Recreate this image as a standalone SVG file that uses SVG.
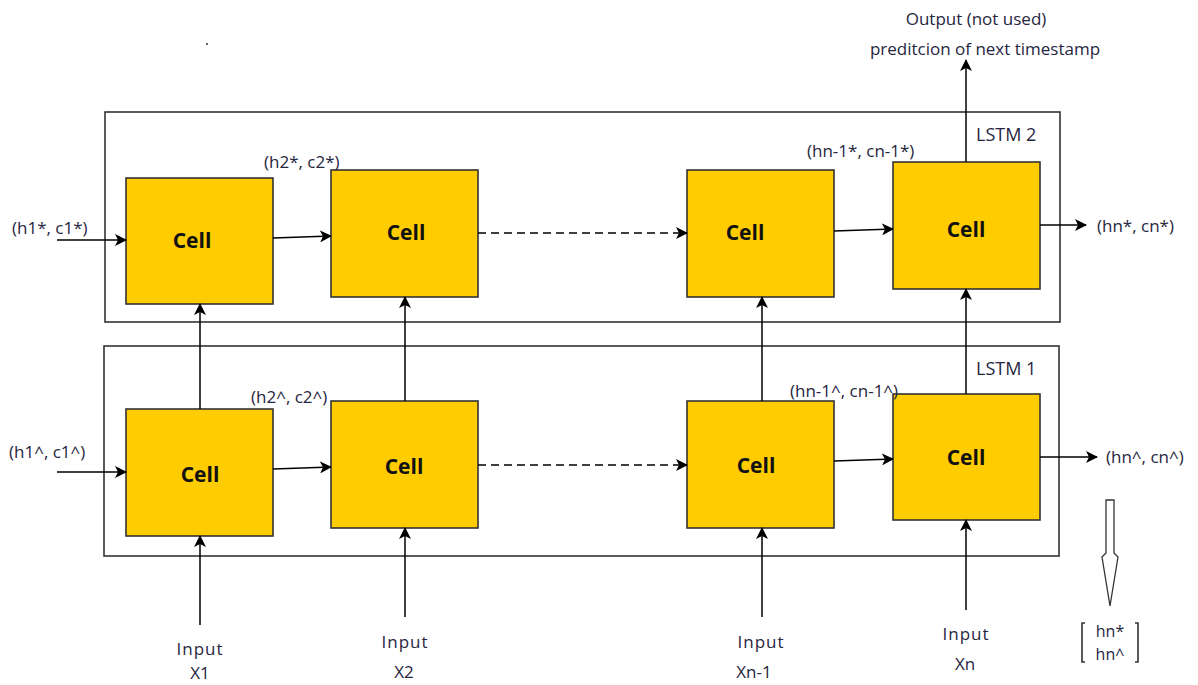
<svg xmlns="http://www.w3.org/2000/svg" width="1198" height="685" viewBox="0 0 1198 685">
  <style>
    .layer { fill: none; stroke: #333; stroke-width: 1.6; }
    .cell rect { fill: #ffcc00; stroke: #333; stroke-width: 1.6; }
    .cell text { font-family: "Open Sans", "Noto Sans", sans-serif; font-weight: bold; font-size: 21px; fill: #111; text-anchor: middle; dominant-baseline: central; }
    .lbl { font-family: "Open Sans", "Noto Sans", sans-serif; font-size: 17px; fill: #262640; dominant-baseline: central; }
    .mid { text-anchor: middle; }
    .inp { letter-spacing: 1px; }
    .conn { fill: none; stroke: #000; stroke-width: 1.5; marker-end: url(#arr); }
    .dash { stroke-dasharray: 8 5; }
  </style>
  <defs>
    <marker id="arr" viewBox="0 0 12 12" refX="11" refY="6" markerWidth="12" markerHeight="12" markerUnits="userSpaceOnUse" orient="auto">
      <path d="M0,0 L12,6 L0,12 L3,6 Z" fill="#000"/>
    </marker>
  </defs>

  <!-- stray dot -->
  <circle cx="207" cy="44" r="1" fill="#333"/>

  <!-- layer frames -->
  <g id="lstm2">
    <rect class="layer" x="105" y="112" width="955" height="210"/>
    <text class="lbl" x="976" y="134" style="font-size:18px">LSTM 2</text>
  </g>
  <g id="lstm1">
    <rect class="layer" x="104" y="346" width="955" height="210"/>
    <text class="lbl" x="976" y="368" style="font-size:18px">LSTM 1</text>
  </g>

  <!-- upper layer cells -->
  <g id="top1" class="cell"><rect x="126" y="178" width="147" height="126"/><text x="192" y="240">Cell</text></g>
  <g id="top2" class="cell"><rect x="331" y="170" width="147" height="127"/><text x="406" y="232">Cell</text></g>
  <g id="top3" class="cell"><rect x="687" y="170" width="147" height="127"/><text x="745" y="232">Cell</text></g>
  <g id="top4" class="cell"><rect x="893" y="162" width="147" height="127"/><text x="966" y="229">Cell</text></g>

  <!-- lower layer cells -->
  <g id="bot1" class="cell"><rect x="126" y="409" width="147" height="127"/><text x="200" y="474">Cell</text></g>
  <g id="bot2" class="cell"><rect x="331" y="401" width="147" height="127"/><text x="404" y="466">Cell</text></g>
  <g id="bot3" class="cell"><rect x="687" y="401" width="147" height="127"/><text x="756" y="465">Cell</text></g>
  <g id="bot4" class="cell"><rect x="893" y="394" width="147" height="126"/><text x="966" y="457">Cell</text></g>

  <!-- connectors -->
  <g id="connectors">
    <!-- upper recurrence -->
    <path class="conn" d="M57,240 L126,240"/>
    <path class="conn" d="M273,238 L331,236"/>
    <path class="conn dash" d="M478,233 L687,233"/>
    <path class="conn" d="M834,231 L893,229"/>
    <path class="conn" d="M1040,225 L1086,225"/>
    <path class="conn" d="M966,162 L966,60"/>
    <!-- lower recurrence -->
    <path class="conn" d="M57,472 L126,472"/>
    <path class="conn" d="M273,469 L331,467"/>
    <path class="conn dash" d="M478,465 L687,465"/>
    <path class="conn" d="M834,461 L893,459"/>
    <path class="conn" d="M1040,457 L1097,457"/>
    <!-- lower to upper -->
    <path class="conn" d="M200,409 L200,304"/>
    <path class="conn" d="M405,401 L405,297"/>
    <path class="conn" d="M762,401 L762,297"/>
    <path class="conn" d="M966,394 L966,289"/>
    <!-- inputs -->
    <path class="conn" d="M200,625 L200,536"/>
    <path class="conn" d="M405,617 L405,528"/>
    <path class="conn" d="M762,617 L762,528"/>
    <path class="conn" d="M966,610 L966,520"/>
  </g>

  <!-- state labels -->
  <text class="lbl" x="12" y="227">(h1*, c1*)</text>
  <text class="lbl" x="264" y="161">(h2*, c2*)</text>
  <text class="lbl" x="807" y="150">(hn-1*, cn-1*)</text>
  <text class="lbl" x="1097" y="225">(hn*, cn*)</text>
  <text class="lbl" x="9" y="451">(h1^, c1^)</text>
  <text class="lbl" x="251" y="396">(h2^, c2^)</text>
  <text class="lbl" x="790" y="390">(hn-1^, cn-1^)</text>
  <text class="lbl" x="1106" y="456">(hn^, cn^)</text>

  <!-- output caption -->
  <text class="lbl mid" x="976" y="18">Output (not used)</text>
  <text class="lbl mid" x="985" y="48">preditcion of next timestamp</text>

  <!-- input captions -->
  <text class="lbl mid inp" x="200" y="648">Input</text>
  <text class="lbl mid" x="200" y="672">X1</text>
  <text class="lbl mid inp" x="405" y="641">Input</text>
  <text class="lbl mid" x="404" y="671">X2</text>
  <text class="lbl mid inp" x="761" y="641">Input</text>
  <text class="lbl mid" x="754" y="671">Xn-1</text>
  <text class="lbl mid inp" x="966" y="633">Input</text>
  <text class="lbl mid" x="965" y="663">Xn</text>

  <!-- hollow arrow to concatenated state -->
  <g id="concat">
    <path d="M1106,500 L1114,500 L1114,553 L1118,557 L1110,606 L1102,557 L1106,553 Z" fill="#fff" stroke="#333" stroke-width="1.3"/>
    <path d="M1085,623 L1082,623 L1082,662 L1085,662 M1135,623 L1138,623 L1138,662 L1135,662" fill="none" stroke="#333" stroke-width="1.6"/>
    <text class="lbl mid" x="1110" y="631" style="font-size:16px">hn*</text>
    <text class="lbl mid" x="1110" y="654" style="font-size:16px">hn^</text>
  </g>
</svg>
